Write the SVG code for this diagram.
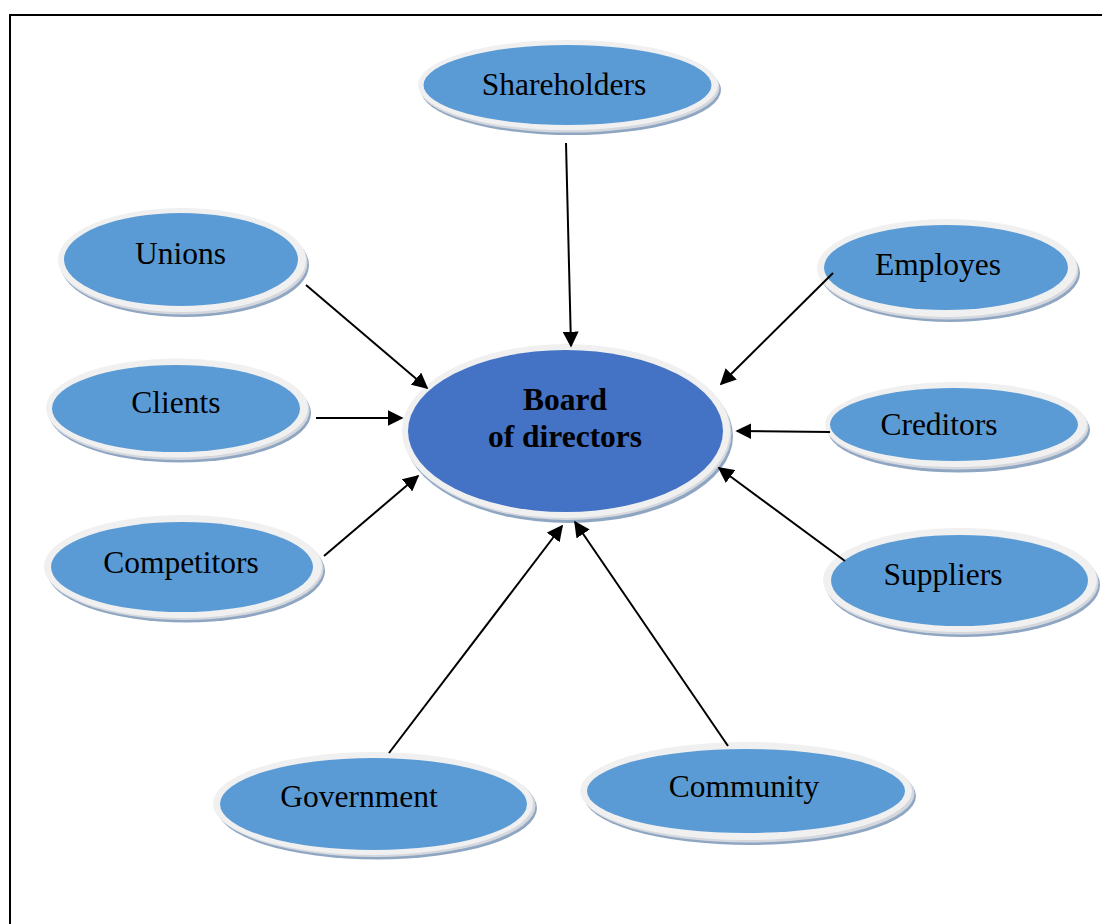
<svg xmlns="http://www.w3.org/2000/svg" width="1102" height="924" viewBox="0 0 1102 924">
<defs>
<style>
.sh{fill:#8fa6c2}
.mid{fill:#d4d8de}
.ring{fill:#f0f0f0}
.blue{fill:#5b9bd5}
.core{fill:#4472c4}
.t{font-family:"Liberation Serif","Times New Roman",serif;font-size:31.5px;fill:#000;text-anchor:middle}
.b{font-weight:bold}
.c{stroke:#000;stroke-width:2;fill:none;marker-end:url(#ah)}
</style>
<marker id="ah" viewBox="0 0 10 10" refX="9" refY="5" markerWidth="8" markerHeight="8" markerUnits="strokeWidth" orient="auto">
<path d="M0,0 L10,5 L0,10 Z" fill="#000"/>
</marker>
</defs>
<rect width="1102" height="924" fill="#fff"/>
<path d="M10,924 L10,15 L1102,15" fill="none" stroke="#000" stroke-width="2"/>

<g id="board">
<ellipse class="sh" cx="569" cy="436" rx="164" ry="87"/>
<ellipse class="mid" cx="567.5" cy="433" rx="164" ry="87"/>
<ellipse class="ring" cx="566" cy="431" rx="164" ry="87"/>
<ellipse class="core" cx="565.5" cy="431" rx="157.5" ry="81"/>
<text class="t b" x="565" y="410">Board</text>
<text class="t b" x="565" y="447">of directors</text>
</g>

<g id="shareholders">
<ellipse class="sh" cx="571" cy="90" rx="150" ry="45"/>
<ellipse class="mid" cx="569.5" cy="87.5" rx="150" ry="45"/>
<ellipse class="ring" cx="568" cy="85" rx="150" ry="45"/>
<ellipse class="blue" cx="567.5" cy="85" rx="144" ry="40"/>
<text class="t" x="564" y="95">Shareholders</text>
</g>

<g id="unions">
<ellipse class="sh" cx="185" cy="265" rx="124" ry="52"/>
<ellipse class="mid" cx="183.5" cy="262.5" rx="124" ry="52"/>
<ellipse class="ring" cx="182" cy="260" rx="124" ry="52"/>
<ellipse class="blue" cx="181" cy="259.5" rx="117" ry="46.5"/>
<text class="t" x="180.5" y="264">Unions</text>
</g>

<g id="clients">
<ellipse class="sh" cx="180" cy="413" rx="131" ry="49.5"/>
<ellipse class="mid" cx="178.5" cy="410.5" rx="131" ry="49.5"/>
<ellipse class="ring" cx="177" cy="408" rx="131" ry="49.5"/>
<ellipse class="blue" cx="176" cy="408.5" rx="124" ry="43.5"/>
<text class="t" x="176" y="413">Clients</text>
</g>

<g id="competitors">
<ellipse class="sh" cx="186" cy="571" rx="139" ry="51.5"/>
<ellipse class="mid" cx="184.5" cy="568.5" rx="139" ry="51.5"/>
<ellipse class="ring" cx="183" cy="566.5" rx="139" ry="51.5"/>
<ellipse class="blue" cx="182" cy="567" rx="131" ry="45"/>
<text class="t" x="181" y="573">Competitors</text>
</g>

<g id="employes">
<ellipse class="sh" cx="950" cy="273" rx="130" ry="49"/>
<ellipse class="mid" cx="948.5" cy="270.5" rx="130" ry="49"/>
<ellipse class="ring" cx="947" cy="268" rx="130" ry="49"/>
<ellipse class="blue" cx="946" cy="267.5" rx="122" ry="42.5"/>
<text class="t" x="938" y="275">Employes</text>
</g>

<g id="creditors">
<ellipse class="sh" cx="959" cy="430" rx="131" ry="42.5"/>
<ellipse class="mid" cx="957.5" cy="427" rx="131" ry="42.5"/>
<ellipse class="ring" cx="956" cy="424.5" rx="131" ry="42.5"/>
<ellipse class="blue" cx="954" cy="424.5" rx="124" ry="36.5"/>
<text class="t" x="939" y="435">Creditors</text>
</g>

<g id="suppliers">
<ellipse class="sh" cx="963" cy="585" rx="137" ry="52"/>
<ellipse class="mid" cx="961.5" cy="582.5" rx="137" ry="52"/>
<ellipse class="ring" cx="960" cy="580" rx="137" ry="52"/>
<ellipse class="blue" cx="959.5" cy="580.5" rx="128.5" ry="45.5"/>
<text class="t" x="943" y="585">Suppliers</text>
</g>

<g id="government">
<ellipse class="sh" cx="377" cy="808" rx="160" ry="51.5"/>
<ellipse class="mid" cx="375.5" cy="805.5" rx="160" ry="51.5"/>
<ellipse class="ring" cx="373" cy="803.5" rx="160" ry="51.5"/>
<ellipse class="blue" cx="373.5" cy="804" rx="153.5" ry="46"/>
<text class="t" x="359" y="807">Government</text>
</g>

<g id="community">
<ellipse class="sh" cx="750" cy="796" rx="166" ry="49"/>
<ellipse class="mid" cx="748.5" cy="793.5" rx="166" ry="49"/>
<ellipse class="ring" cx="746" cy="791" rx="166" ry="49"/>
<ellipse class="blue" cx="746" cy="791" rx="159" ry="42"/>
<text class="t" x="744" y="797">Community</text>
</g>

<g id="connectors">
<line class="c" x1="566" y1="143" x2="571" y2="346"/>
<line class="c" x1="306" y1="285" x2="427" y2="388"/>
<line class="c" x1="316" y1="418" x2="402" y2="418"/>
<line class="c" x1="324" y1="556" x2="418" y2="476"/>
<line class="c" x1="833" y1="273" x2="721" y2="384"/>
<line class="c" x1="830" y1="432" x2="737" y2="431"/>
<line class="c" x1="845" y1="561" x2="719" y2="468"/>
<line class="c" x1="389" y1="753" x2="562" y2="526"/>
<line class="c" x1="728" y1="746" x2="575" y2="522"/>
</g>
</svg>
